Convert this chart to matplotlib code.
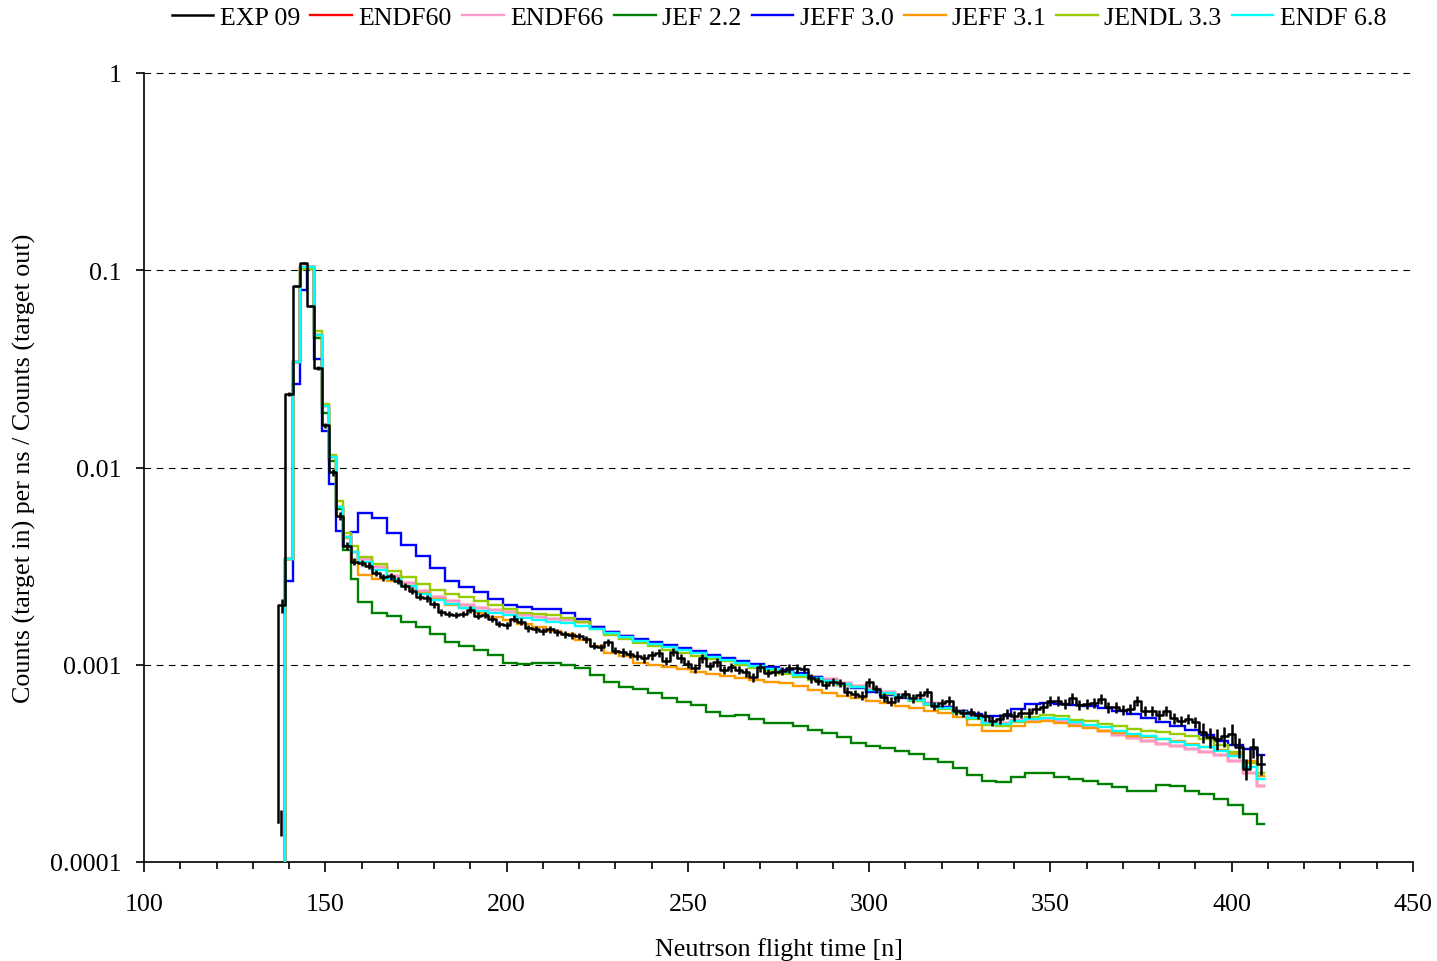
import numpy as np
import matplotlib
matplotlib.use("Agg")
import matplotlib.pyplot as plt
from matplotlib.ticker import FixedLocator, MultipleLocator, NullLocator

# ---------------- data ----------------
# EXP 09: 2-ns bins, first edge 137 ns
exp_first_edge = 137.0
exp_bin_width = 2.0
exp_start = 1.6e-4          # level the measured histogram rises from at 137 ns
exp_start_t = 137.7
exp_start_err = 0.15
exp_vals = [
    # 138 .. 156
    2.00e-3, 2.36e-2, 8.30e-2, 1.09e-1, 6.60e-2, 3.20e-2, 1.64e-2, 9.46e-3, 5.67e-3, 4.00e-3,
    # 158 .. 222
    3.33e-3, 3.28e-3, 3.18e-3, 2.92e-3, 2.77e-3, 2.81e-3, 2.67e-3, 2.50e-3, 2.37e-3, 2.21e-3,
    2.17e-3, 2.03e-3, 1.85e-3, 1.81e-3, 1.79e-3, 1.81e-3, 1.90e-3, 1.77e-3, 1.79e-3, 1.71e-3,
    1.61e-3, 1.59e-3, 1.71e-3, 1.65e-3, 1.53e-3, 1.51e-3, 1.48e-3, 1.51e-3, 1.46e-3, 1.43e-3,
    1.41e-3, 1.40e-3, 1.35e-3,
    # 224 .. 408
    1.250e-3, 1.225e-3, 1.300e-3, 1.178e-3, 1.156e-3, 1.135e-3, 1.112e-3, 1.079e-3, 1.119e-3, 1.148e-3,
    1.047e-3, 1.164e-3, 1.079e-3, 1.009e-3, 9.59e-4, 1.079e-3, 9.89e-4, 1.028e-3, 9.44e-4, 9.71e-4,
    9.44e-4, 9.16e-4, 8.63e-4, 9.71e-4, 9.08e-4, 9.23e-4, 9.33e-4, 9.59e-4, 9.59e-4, 9.55e-4,
    8.53e-4, 8.30e-4, 7.89e-4, 8.20e-4, 8.11e-4, 7.31e-4, 7.11e-4, 6.97e-4, 8.15e-4, 7.53e-4,
    6.84e-4, 6.50e-4, 6.84e-4, 7.11e-4, 6.76e-4, 7.03e-4, 7.24e-4, 6.19e-4, 6.40e-4, 6.58e-4,
    5.85e-4, 5.69e-4, 5.78e-4, 5.56e-4, 5.52e-4, 5.20e-4, 5.31e-4, 5.62e-4, 5.52e-4, 5.69e-4,
    5.69e-4, 5.97e-4, 6.08e-4, 6.58e-4, 6.58e-4, 6.32e-4, 6.76e-4, 6.25e-4, 6.32e-4, 6.40e-4,
    6.70e-4, 6.08e-4, 6.08e-4, 5.92e-4, 5.97e-4, 6.58e-4, 5.85e-4, 5.85e-4, 5.56e-4, 5.85e-4,
    5.35e-4, 5.20e-4, 5.31e-4, 5.11e-4, 4.54e-4, 4.29e-4, 4.21e-4, 4.34e-4, 4.46e-4, 3.81e-4,
    2.96e-4, 3.81e-4, 3.14e-4,
]
# relative error bars of EXP 09, as (relative error, number of bins)
exp_err_segments = [(0.08, 1), (0.02, 1), (0.01, 3), (0.02, 1), (0.03, 1), (0.04, 1),
                    (0.05, 2), (0.04, 37), (0.05, 50), (0.06, 30), (0.12, 9)]

# Calculations: 2-ns bins 139-159, then 4-ns bins 159-407, last bin 407-409
model_edges = np.r_[np.arange(139, 160, 2), np.arange(163, 408, 4), 409]

endf68 = [3.44e-3, 3.42e-2, 1.04e-1, 1.04e-1, 4.70e-2, 2.06e-2, 1.13e-2, 6.31e-3, 4.45e-3, 3.72e-3,
          3.31e-3, 3.02e-3, 2.72e-3, 2.51e-3, 2.29e-3, 2.13e-3, 2.04e-3, 1.95e-3, 1.88e-3, 1.83e-3,
          1.79e-3, 1.73e-3, 1.68e-3, 1.65e-3, 1.62e-3, 1.58e-3,
          1.51e-3, 1.45e-3, 1.38e-3, 1.32e-3, 1.27e-3, 1.23e-3, 1.19e-3, 1.15e-3, 1.10e-3, 1.06e-3,
          1.02e-3, 9.89e-4, 9.55e-4, 9.18e-4, 8.87e-4, 8.59e-4, 8.32e-4, 8.02e-4, 7.73e-4, 7.45e-4,
          7.16e-4, 6.92e-4, 6.61e-4, 6.31e-4, 6.03e-4, 5.75e-4, 5.37e-4, 5.06e-4, 5.01e-4, 5.19e-4,
          5.31e-4, 5.35e-4, 5.31e-4, 5.13e-4, 4.95e-4, 4.81e-4, 4.62e-4, 4.45e-4, 4.35e-4, 4.19e-4,
          4.07e-4, 3.94e-4, 3.82e-4, 3.66e-4, 3.46e-4, 3.02e-4,
          2.63e-4]

endf66 = [3.44e-3, 3.42e-2, 1.04e-1, 1.04e-1, 4.70e-2, 2.06e-2, 1.13e-2, 6.31e-3, 4.45e-3, 3.72e-3,
          3.43e-3, 3.13e-3, 2.82e-3, 2.60e-3, 2.37e-3, 2.20e-3, 2.11e-3, 2.02e-3, 1.95e-3, 1.89e-3,
          1.85e-3, 1.79e-3, 1.74e-3, 1.71e-3, 1.68e-3, 1.64e-3,
          1.56e-3, 1.47e-3, 1.40e-3, 1.34e-3, 1.29e-3, 1.24e-3, 1.20e-3, 1.16e-3, 1.11e-3, 1.07e-3,
          1.03e-3, 1.00e-3, 9.66e-4, 9.29e-4, 8.98e-4, 8.69e-4, 8.42e-4, 8.12e-4, 7.82e-4, 7.54e-4,
          7.25e-4, 7.00e-4, 6.69e-4, 6.39e-4, 6.10e-4, 5.82e-4, 5.43e-4, 5.12e-4, 5.07e-4, 5.25e-4,
          5.25e-4, 5.25e-4, 5.20e-4, 5.01e-4, 4.81e-4, 4.62e-4, 4.42e-4, 4.25e-4, 4.12e-4, 3.98e-4,
          3.87e-4, 3.74e-4, 3.63e-4, 3.48e-4, 3.24e-4, 2.84e-4,
          2.44e-4]

# ENDF60 is hidden beneath ENDF66 in the reference (identical within the line width)
endf60 = list(endf66)

jef22 = [3.44e-3, 3.42e-2, 1.01e-1, 1.01e-1, 4.52e-2, 1.89e-2, 1.08e-2, 6.17e-3, 3.80e-3, 2.72e-3,
         2.09e-3, 1.83e-3, 1.77e-3, 1.65e-3, 1.55e-3, 1.43e-3, 1.30e-3, 1.24e-3, 1.19e-3, 1.12e-3,
         1.02e-3, 1.01e-3, 1.02e-3, 1.02e-3, 1.00e-3, 9.66e-4,
         8.91e-4, 8.22e-4, 7.67e-4, 7.53e-4, 7.16e-4, 6.76e-4, 6.50e-4, 6.24e-4, 5.75e-4, 5.52e-4,
         5.56e-4, 5.31e-4, 5.07e-4, 5.05e-4, 4.91e-4, 4.68e-4, 4.51e-4, 4.32e-4, 4.03e-4, 3.89e-4,
         3.80e-4, 3.66e-4, 3.51e-4, 3.33e-4, 3.20e-4, 2.99e-4, 2.75e-4, 2.57e-4, 2.54e-4, 2.69e-4,
         2.83e-4, 2.81e-4, 2.70e-4, 2.64e-4, 2.57e-4, 2.48e-4, 2.40e-4, 2.30e-4, 2.29e-4, 2.47e-4,
         2.44e-4, 2.30e-4, 2.21e-4, 2.09e-4, 1.95e-4, 1.76e-4,
         1.56e-4]

jeff30 = [2.66e-3, 2.65e-2, 7.96e-2, 1.04e-1, 3.55e-2, 1.53e-2, 8.24e-3, 4.79e-3, 4.01e-3, 4.71e-3,
          5.86e-3, 5.53e-3, 4.68e-3, 4.07e-3, 3.55e-3, 3.09e-3, 2.66e-3, 2.48e-3, 2.34e-3, 2.16e-3,
          2.00e-3, 1.96e-3, 1.92e-3, 1.92e-3, 1.84e-3, 1.70e-3,
          1.55e-3, 1.46e-3, 1.40e-3, 1.35e-3, 1.30e-3, 1.26e-3, 1.22e-3, 1.17e-3, 1.12e-3, 1.08e-3,
          1.05e-3, 1.01e-3, 9.77e-4, 9.44e-4, 9.12e-4, 8.71e-4, 8.32e-4, 7.94e-4, 7.59e-4, 7.24e-4,
          7.00e-4, 6.76e-4, 6.64e-4, 6.31e-4, 6.10e-4, 5.85e-4, 5.62e-4, 5.47e-4, 5.52e-4, 5.96e-4,
          6.31e-4, 6.38e-4, 6.35e-4, 6.24e-4, 6.17e-4, 6.03e-4, 5.82e-4, 5.62e-4, 5.37e-4, 5.13e-4,
          4.90e-4, 4.68e-4, 4.42e-4, 4.12e-4, 3.94e-4, 3.72e-4,
          3.48e-4]

jeff31 = [3.44e-3, 3.42e-2, 1.04e-1, 1.04e-1, 4.70e-2, 2.06e-2, 1.13e-2, 6.31e-3, 4.37e-3, 3.39e-3,
          2.85e-3, 2.72e-3, 2.66e-3, 2.51e-3, 2.32e-3, 2.16e-3, 2.02e-3, 1.94e-3, 1.84e-3, 1.75e-3,
          1.68e-3, 1.60e-3, 1.55e-3, 1.49e-3, 1.43e-3, 1.33e-3,
          1.24e-3, 1.15e-3, 1.11e-3, 1.02e-3, 9.93e-4, 9.72e-4, 9.51e-4, 9.23e-4, 8.97e-4, 8.75e-4,
          8.55e-4, 8.36e-4, 8.22e-4, 8.04e-4, 7.76e-4, 7.48e-4, 7.16e-4, 6.98e-4, 6.79e-4, 6.56e-4,
          6.38e-4, 6.19e-4, 6.03e-4, 5.86e-4, 5.69e-4, 5.43e-4, 4.95e-4, 4.63e-4, 4.63e-4, 4.90e-4,
          5.13e-4, 5.19e-4, 5.09e-4, 4.92e-4, 4.79e-4, 4.62e-4, 4.50e-4, 4.37e-4, 4.30e-4, 4.22e-4,
          4.09e-4, 3.98e-4, 3.83e-4, 3.70e-4, 3.51e-4, 3.24e-4,
          2.74e-4]

jendl33 = [3.44e-3, 3.42e-2, 1.02e-1, 1.02e-1, 4.90e-2, 2.11e-2, 1.16e-2, 6.79e-3, 4.68e-3, 3.98e-3,
           3.51e-3, 3.24e-3, 3.00e-3, 2.77e-3, 2.57e-3, 2.40e-3, 2.29e-3, 2.21e-3, 2.11e-3, 2.02e-3,
           1.91e-3, 1.83e-3, 1.80e-3, 1.78e-3, 1.73e-3, 1.64e-3,
           1.51e-3, 1.41e-3, 1.35e-3, 1.29e-3, 1.24e-3, 1.19e-3, 1.15e-3, 1.11e-3, 1.07e-3, 1.04e-3,
           1.00e-3, 9.66e-4, 9.33e-4, 9.02e-4, 8.71e-4, 8.41e-4, 8.22e-4, 7.94e-4, 7.67e-4, 7.41e-4,
           7.08e-4, 6.84e-4, 6.53e-4, 6.24e-4, 5.96e-4, 5.69e-4, 5.31e-4, 4.95e-4, 4.90e-4, 5.13e-4,
           5.43e-4, 5.56e-4, 5.47e-4, 5.25e-4, 5.16e-4, 5.01e-4, 4.92e-4, 4.73e-4, 4.63e-4, 4.57e-4,
           4.47e-4, 4.37e-4, 4.19e-4, 3.94e-4, 3.63e-4, 3.16e-4,
           2.84e-4]

series_names = ["EXP 09", "ENDF60", "ENDF66", "JEF 2.2", "JEFF 3.0", "JEFF 3.1", "JENDL 3.3", "ENDF 6.8"]
series_colors = ["#000000", "#ff0000", "#ff99cc", "#008000", "#0000ff", "#ff9900", "#99cc00", "#00ffff"]
model_series = [endf60, endf66, jef22, jeff30, jeff31, jendl33, endf68]

x_ticks = [100, 150, 200, 250, 300, 350, 400, 450]
y_ticks = [1e-4, 1e-3, 1e-2, 1e-1, 1]
y_tick_labels = ["0.0001", "0.001", "0.01", "0.1", "1"]

for s in model_series:
    assert len(s) == len(model_edges) - 1, len(s)
assert len(exp_vals) == 136, len(exp_vals)

# ---------------- plotting ----------------
FS = 18.7
plt.rcParams["font.family"] = ["Liberation Serif", "DejaVu Serif"]
plt.rcParams["font.size"] = FS

fig = plt.figure(figsize=(14.37, 9.62), dpi=100)
ax = fig.add_axes([144 / 1437, 1 - 863 / 962, (1413 - 144) / 1437, (863 - 74) / 962])

ymin, ymax = 1e-4, 1.0


def step_path(edges, vals, start):
    xs, ys = [edges[0]], [start]
    for i, v in enumerate(vals):
        xs += [edges[i], edges[i + 1]]
        ys += [v, v]
    return xs, ys


handles = []
for name, color, vals in zip(series_names[1:], series_colors[1:], model_series):
    xs, ys = step_path(model_edges, vals, ymin * 1e-3)
    h, = ax.plot(xs, ys, color=color, lw=1.7, label=name, solid_joinstyle="miter", zorder=3)
    handles.append(h)

exp_edges = exp_first_edge + exp_bin_width * np.arange(len(exp_vals) + 1)
exp_centers = 0.5 * (exp_edges[:-1] + exp_edges[1:])
xs, ys = step_path(exp_edges, exp_vals, exp_start)
h_exp, = ax.plot(xs, ys, color="black", lw=1.8, label=series_names[0], zorder=5)

rel = np.concatenate([np.full(n, r) for r, n in exp_err_segments])
ev = np.asarray(exp_vals)
ax.vlines(exp_centers, ev * (1 - rel), ev * (1 + rel), color="black", lw=1.8, zorder=5)
ax.vlines([exp_start_t], [exp_start * (1 - exp_start_err)], [exp_start * (1 + exp_start_err)],
          color="black", lw=1.8, zorder=5)

ax.set_yscale("log")
ax.set_xlim(100, 450)
ax.set_ylim(ymin, ymax)

ax.xaxis.set_major_locator(FixedLocator(x_ticks))
ax.xaxis.set_minor_locator(MultipleLocator(10))
ax.set_xticklabels([str(t) for t in x_ticks])
ax.yaxis.set_major_locator(FixedLocator(y_ticks))
ax.yaxis.set_minor_locator(NullLocator())
ax.set_yticklabels(y_tick_labels)

ax.tick_params(axis="x", which="major", direction="out", length=7, width=1.2, pad=15, labelsize=FS)
ax.tick_params(axis="x", which="minor", direction="out", length=5, width=1.2)
ax.tick_params(axis="y", which="major", direction="out", length=6, width=1.2, pad=10, labelsize=FS)

for sp in ["top", "right"]:
    ax.spines[sp].set_visible(False)
for sp in ["left", "bottom"]:
    ax.spines[sp].set_linewidth(1.2)

for yv in y_ticks[1:]:
    ax.axhline(yv, color="black", lw=0.8, linestyle=(0, (6, 5)), zorder=1, clip_on=False)

ax.set_xlabel("Neutrson flight time [n]", fontsize=FS, labelpad=16)
ax.set_ylabel("Counts (target in) per ns / Counts (target out)", fontsize=FS, labelpad=10)

fig.legend([h_exp] + handles, series_names, loc="center", ncol=8, frameon=False,
           bbox_to_anchor=(779 / 1437, 1 - 18 / 962), handlelength=1.6, handletextpad=0.25,
           columnspacing=0.4, fontsize=FS, borderaxespad=0)

fig.savefig("out.png", dpi=100)
